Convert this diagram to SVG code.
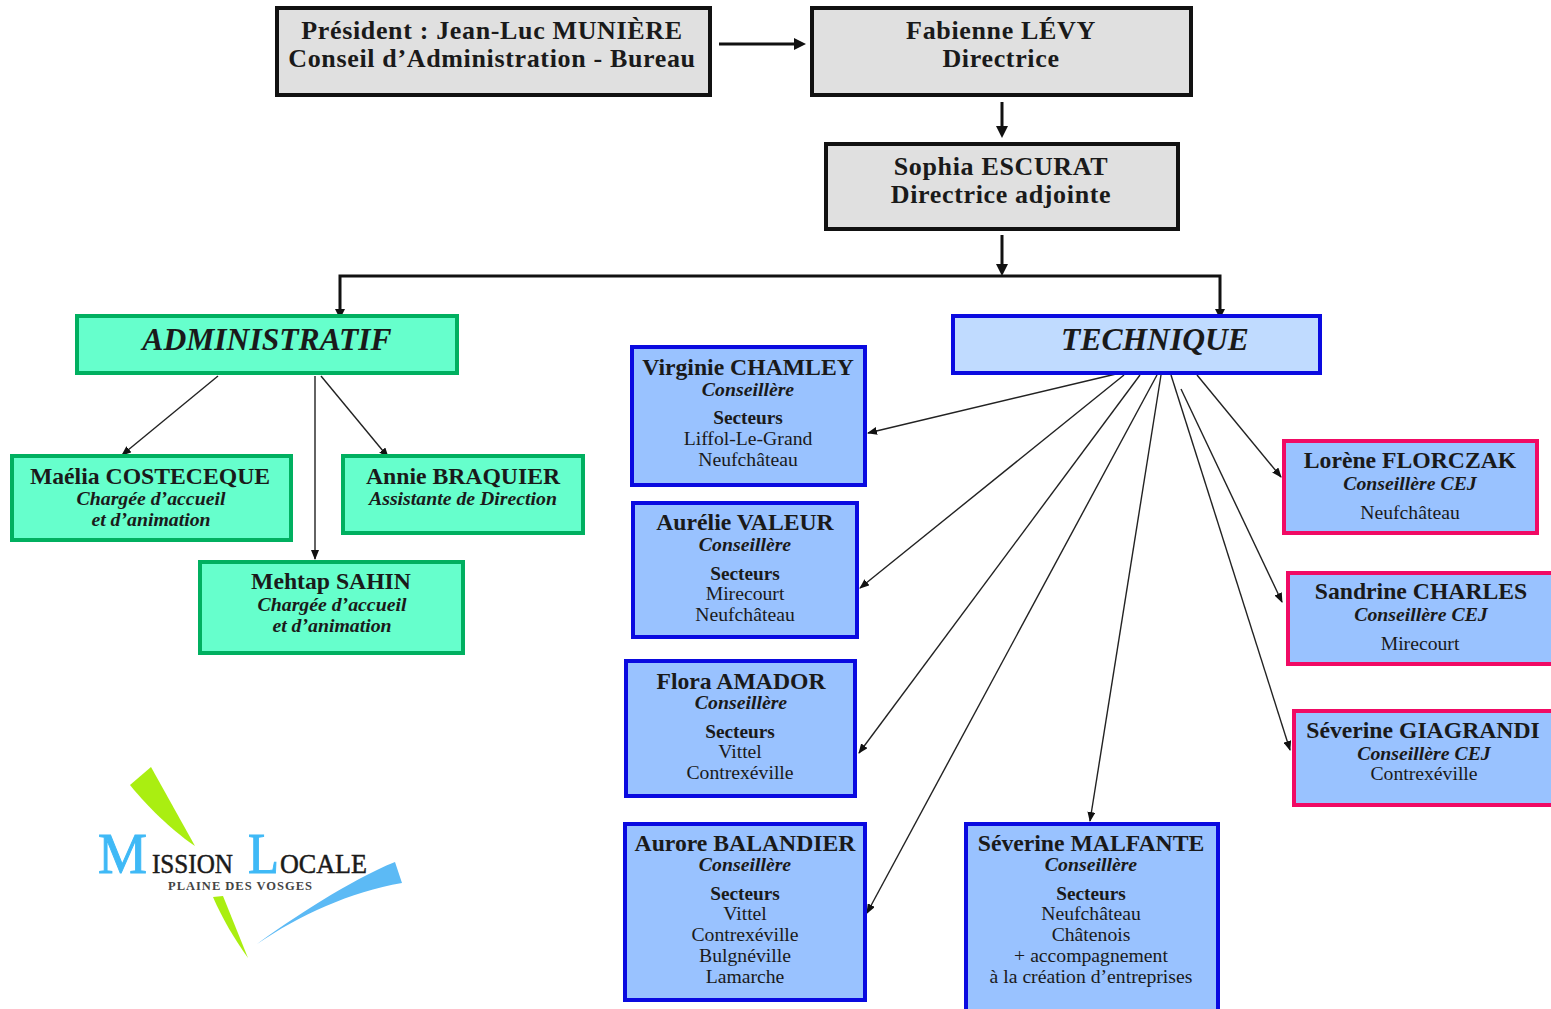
<svg xmlns="http://www.w3.org/2000/svg" width="1551" height="1009" viewBox="0 0 1551 1009">
<defs>
<marker id="a" markerWidth="10" markerHeight="8" refX="9" refY="4" orient="auto" markerUnits="userSpaceOnUse"><path d="M0 0L10 4L0 8Z" fill="#111"/></marker>
<style>
text{font-family:"Liberation Serif","Times New Roman",serif;text-anchor:middle;fill:#1a1a1a}
.g rect{fill:#e0e0e0;stroke:#111;stroke-width:4}
.g text{font-weight:bold;font-size:26px;letter-spacing:.65px}
.h text{font-weight:bold;font-style:italic;font-size:31.6px}
.ad rect{fill:#66ffcc;stroke:#00b060;stroke-width:4}
.te rect{fill:#c0dbff;stroke:#0a0ae0;stroke-width:4}
.gr rect{fill:#66ffcc;stroke:#00b060;stroke-width:4}
.bl rect{fill:#99c2ff;stroke:#0a0ae0;stroke-width:4}
.pk rect{fill:#99c2ff;stroke:#f00a64;stroke-width:4}
.n{font-weight:bold;font-size:23.7px}
.r{font-weight:bold;font-style:italic;font-size:19.8px}
.s{font-weight:bold;font-size:19.3px}
.t{font-size:19.7px}
.c1{fill:none;stroke:#222;stroke-width:1.4}
.c2{fill:none;stroke:#111;stroke-width:3}
.logo-b{text-anchor:start;font-size:58px;fill:#3fb9f6;stroke:#3fb9f6;stroke-width:1}
.logo-s{text-anchor:start;font-size:28px;fill:#1a1a1a;stroke:#1a1a1a;stroke-width:.5}
</style>
</defs>
<rect width="1551" height="1009" fill="#fff"/>
<g id="connectors">
<path class="c2" d="M719 44H796"/><path d="M794 38L806 44L794 50Z" fill="#111"/>
<path class="c2" d="M1002 102V128"/><path d="M996 126L1002 138L1008 126Z" fill="#111"/>
<path class="c2" d="M1002 235V268"/><path d="M996 264L1002 276L1008 264Z" fill="#111"/>
<path class="c2" d="M340 312V276H1220V312"/>
<path d="M335 309L340 319L345 309Z" fill="#111"/><path d="M1215 309L1220 319L1225 309Z" fill="#111"/>
<path class="c1" d="M218 376L122 455" marker-end="url(#a)"/>
<path class="c1" d="M315 376V559" marker-end="url(#a)"/>
<path class="c1" d="M321 376L388 457" marker-end="url(#a)"/>
<path class="c1" d="M1116 374L868 433" marker-end="url(#a)"/>
<path class="c1" d="M1124 375L860 588" marker-end="url(#a)"/>
<path class="c1" d="M1140 375L859 753" marker-end="url(#a)"/>
<path class="c1" d="M1157 375L867 913" marker-end="url(#a)"/>
<path class="c1" d="M1161 375L1090 821" marker-end="url(#a)"/>
<path class="c1" d="M1171 375L1290 750" marker-end="url(#a)"/>
<path class="c1" d="M1181 389L1282 602" marker-end="url(#a)"/>
<path class="c1" d="M1197 375L1281 477" marker-end="url(#a)"/>
</g>
<g id="president" class="g"><rect x="277" y="8" width="433" height="87"/><text x="492" y="39">Président : Jean-Luc MUNIÈRE</text><text x="492" y="67">Conseil d’Administration - Bureau</text></g>
<g id="directrice" class="g"><rect x="812" y="8" width="379" height="87"/><text x="1001" y="39">Fabienne LÉVY</text><text x="1001" y="67">Directrice</text></g>
<g id="adjointe" class="g"><rect x="826" y="144" width="352" height="85"/><text x="1001" y="175">Sophia ESCURAT</text><text x="1001" y="203">Directrice adjointe</text></g>
<g id="administratif" class="h ad"><rect x="77" y="316" width="380" height="57"/><text x="267" y="350">ADMINISTRATIF</text></g>
<g id="technique" class="h te"><rect x="953" y="316" width="367" height="57"/><text x="1155" y="350">TECHNIQUE</text></g>
<g id="costeceque" class="gr"><rect x="12" y="456" width="279" height="84"/><text class="n" x="150" y="484">Maélia COSTECEQUE</text><text class="r" x="151" y="505">Chargée d’accueil</text><text class="r" x="151" y="526">et d’animation</text></g>
<g id="braquier" class="gr"><rect x="343" y="456" width="240" height="77"/><text class="n" x="463" y="484">Annie BRAQUIER</text><text class="r" x="463" y="505">Assistante de Direction</text></g>
<g id="sahin" class="gr"><rect x="200" y="562" width="263" height="91"/><text class="n" x="331" y="589">Mehtap SAHIN</text><text class="r" x="332" y="611">Chargée d’accueil</text><text class="r" x="332" y="632">et d’animation</text></g>
<g id="chamley" class="bl"><rect x="632" y="347" width="233" height="138"/><text class="n" x="748" y="375">Virginie CHAMLEY</text><text class="r" x="748" y="396">Conseillère</text><text class="s" x="748" y="424">Secteurs</text><text class="t" x="748" y="445">Liffol-Le-Grand</text><text class="t" x="748" y="466">Neufchâteau</text></g>
<g id="valeur" class="bl"><rect x="633" y="503" width="224" height="134"/><text class="n" x="745" y="530">Aurélie VALEUR</text><text class="r" x="745" y="551">Conseillère</text><text class="s" x="745" y="580">Secteurs</text><text class="t" x="745" y="600">Mirecourt</text><text class="t" x="745" y="621">Neufchâteau</text></g>
<g id="amador" class="bl"><rect x="626" y="661" width="229" height="135"/><text class="n" x="741" y="689">Flora AMADOR</text><text class="r" x="741" y="709">Conseillère</text><text class="s" x="740" y="738">Secteurs</text><text class="t" x="740" y="758">Vittel</text><text class="t" x="740" y="779">Contrexéville</text></g>
<g id="balandier" class="bl"><rect x="625" y="824" width="240" height="176"/><text class="n" x="745" y="851">Aurore BALANDIER</text><text class="r" x="745" y="871">Conseillère</text><text class="s" x="745" y="900">Secteurs</text><text class="t" x="745" y="920">Vittel</text><text class="t" x="745" y="941">Contrexéville</text><text class="t" x="745" y="962">Bulgnéville</text><text class="t" x="745" y="983">Lamarche</text></g>
<g id="malfante" class="bl"><rect x="966" y="824" width="252" height="190"/><text class="n" x="1091" y="851">Séverine MALFANTE</text><text class="r" x="1091" y="871">Conseillère</text><text class="s" x="1091" y="900">Secteurs</text><text class="t" x="1091" y="920">Neufchâteau</text><text class="t" x="1091" y="941">Châtenois</text><text class="t" x="1091" y="962">+ accompagnement</text><text class="t" x="1091" y="983">à la création d’entreprises</text></g>
<g id="florczak" class="pk"><rect x="1284" y="441" width="253" height="92"/><text class="n" x="1410" y="468">Lorène FLORCZAK</text><text class="r" x="1410" y="490">Conseillère CEJ</text><text class="t" x="1410" y="519">Neufchâteau</text></g>
<g id="charles" class="pk"><rect x="1288" y="573" width="267" height="91"/><text class="n" x="1421" y="599">Sandrine CHARLES</text><text class="r" x="1421" y="621">Conseillère CEJ</text><text class="t" x="1420" y="650">Mirecourt</text></g>
<g id="giagrandi" class="pk"><rect x="1294" y="711" width="261" height="94"/><text class="n" x="1423" y="738">Séverine GIAGRANDI</text><text class="r" x="1424" y="760">Conseillère CEJ</text><text class="t" x="1424" y="780">Contrexéville</text></g>
<g id="logo">
<path d="M130 785L151 767L195 846C178 835 150 810 130 785Z" fill="#aaee11"/>
<path d="M213 897L223 896L248 958C235 940 222 918 213 897Z" fill="#aaee11"/>
<path d="M257 944C290 920 350 880 395 862L402 883C350 892 300 915 257 944Z" fill="#5cbaf5"/>
<text class="logo-b" x="98" y="873" textLength="49" lengthAdjust="spacingAndGlyphs">M</text>
<text class="logo-s" x="152" y="873" textLength="81" lengthAdjust="spacingAndGlyphs">ISSION</text>
<text class="logo-b" x="248" y="873" textLength="31" lengthAdjust="spacingAndGlyphs">L</text>
<text class="logo-s" x="280" y="873" textLength="87" lengthAdjust="spacingAndGlyphs">OCALE</text>
<text x="168" y="890" textLength="144" style="text-anchor:start;font-weight:bold;font-size:12.5px;fill:#444">PLAINE DES VOSGES</text>
</g>
</svg>
